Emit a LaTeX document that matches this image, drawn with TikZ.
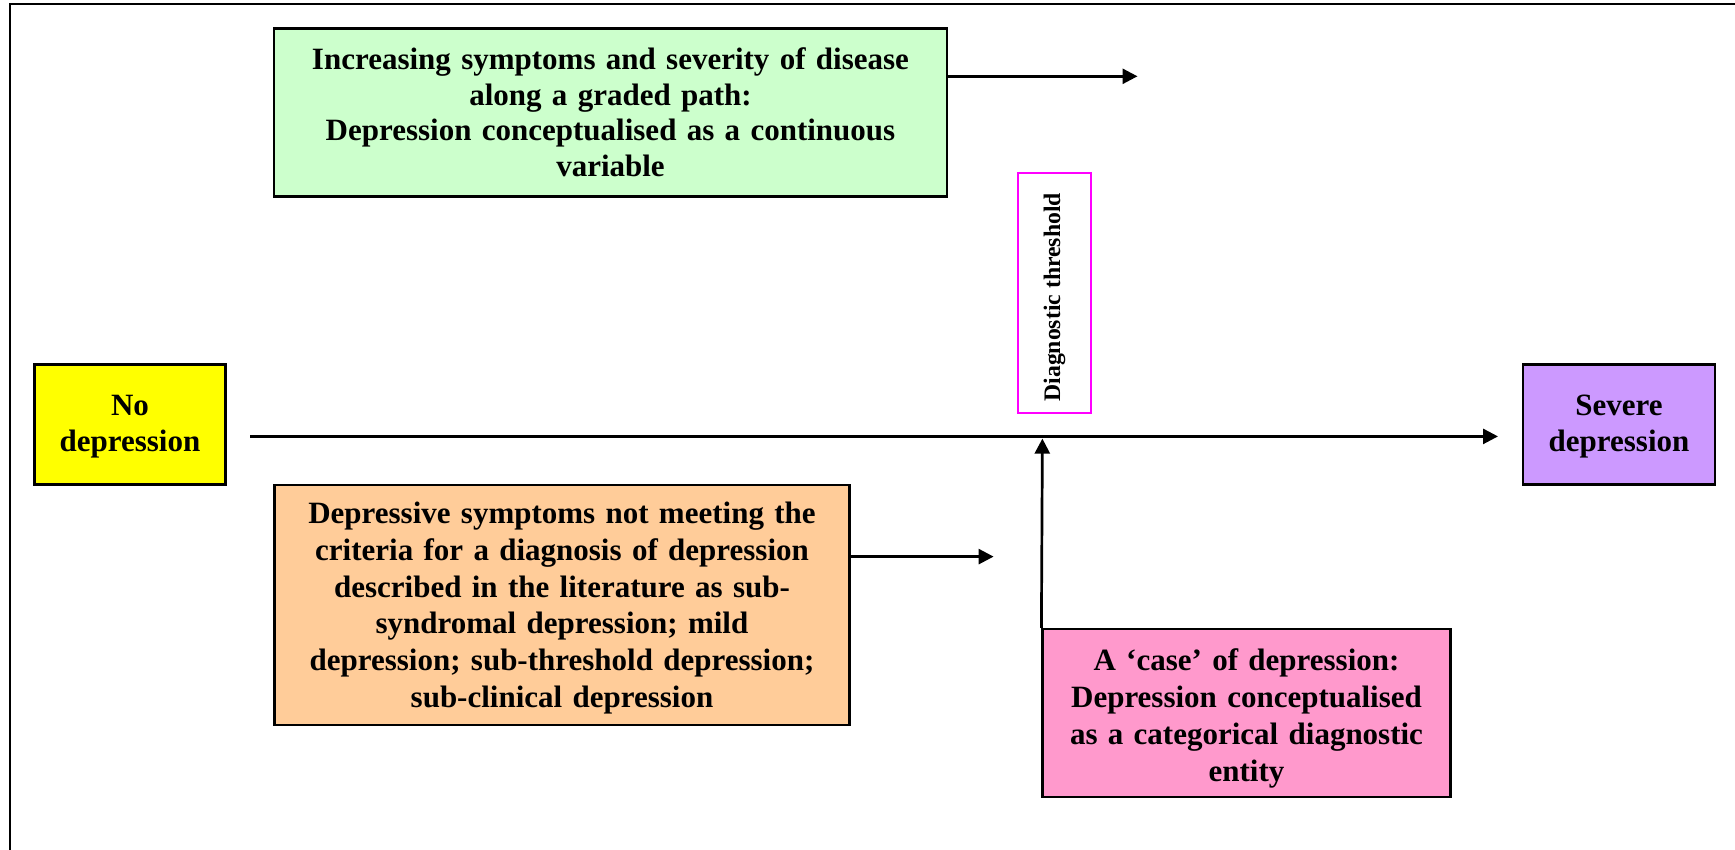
\documentclass[tikz,border=0pt]{standalone}
\usepackage{fontspec}
\setmainfont{Liberation Serif}
\usetikzlibrary{arrows.meta}
\definecolor{mintbg}{HTML}{CCFFCC}
\definecolor{yellowbg}{HTML}{FFFF00}
\definecolor{peachbg}{HTML}{FFCC99}
\definecolor{pinkbg}{HTML}{FF99CC}
\definecolor{lilacbg}{HTML}{CC99FF}
\definecolor{threshline}{HTML}{FF00FF}
\tikzset{
  box/.style={draw=black, line width=2.2pt, inner sep=0pt, align=center,
    font=\fontsize{31}{35.5}\selectfont\bfseries},
  widebox/.style={box, font=\fontsize{31}{36.8}\selectfont\bfseries},
  thresh/.style={draw=threshline, line width=2pt, fill=white, inner sep=0pt,
    rotate=90, font=\fontsize{23.7}{27}\selectfont\bfseries},
  flow/.style={line width=2.7pt, -{Triangle[length=15pt,width=15pt]}},
  frameline/.style={line width=2.2pt}
}
\begin{document}
\begin{tikzpicture}[x=1pt, y=-1pt]
\useasboundingbox (0,0) rectangle (1735,849);
% page frame
\draw[frameline] (10,860) -- (10,4) -- (1745,4);

% boxes
\node[box, fill=mintbg, minimum width=673pt, minimum height=168pt, text width=660pt]
  (cont) at (610.5,112.4) {Increasing symptoms and severity of disease\\along a graded path:\\Depression conceptualised as a continuous\\variable};
\node[thresh, minimum width=240pt, minimum height=73pt]
  (thr) at (1054.5,292.9) {};
\node[rotate=90, inner sep=0pt, font=\fontsize{23.7}{27}\selectfont\bfseries]
  (thrlabel) at (1054.5,297.3) {Diagnostic threshold};
\node[box, fill=yellowbg, minimum width=191pt, minimum height=120pt]
  (none) at (130,424.5) {};
\node[align=center, inner sep=0pt, font=\fontsize{31}{35.5}\selectfont\bfseries]
  (nonelabel) at (130,426.7) {No\\depression};
\node[box, fill=lilacbg, minimum width=192pt, minimum height=120pt]
  (severe) at (1619,424.5) {};
\node[align=center, inner sep=0pt, font=\fontsize{31}{35.5}\selectfont\bfseries]
  (severelabel) at (1619,426.7) {Severe\\depression};
\node[widebox, fill=peachbg, minimum width=575pt, minimum height=240pt]
  (sub) at (562,604.8) {};
\node[align=center, inner sep=0pt, text width=560pt, font=\fontsize{31}{36.8}\selectfont\bfseries]
  (sublabel) at (562,608.1) {Depressive symptoms not meeting the\\criteria for a diagnosis of depression\\described in the literature as sub-\\syndromal depression; mild\\depression; sub-threshold depression;\\sub-clinical depression};
\node[widebox, fill=pinkbg, minimum width=408pt, minimum height=168pt]
  (case) at (1246.5,713) {};
\node[align=center, inner sep=0pt, text width=400pt, font=\fontsize{31}{36.8}\selectfont\bfseries]
  (caselabel) at (1246.5,718.5) {A `case' of depression:\\Depression conceptualised\\as a categorical diagnostic\\entity};

% connector end points
\coordinate (axisstart) at (250,436.4);
\coordinate (axisend) at (1498,436.4);
\coordinate (contend) at (1137.5,76.3);
\coordinate (subend) at (993.6,556.6);
\coordinate (casetip) at (1042.4,438.6);

% connectors
\draw[flow] (axisstart) -- (axisend);
\draw[flow] (cont.east |- contend) -- (contend);
\draw[flow] (sub.east |- subend) -- (subend);
\draw[flow] (case.north west) -- (casetip);
\end{tikzpicture}
\end{document}
